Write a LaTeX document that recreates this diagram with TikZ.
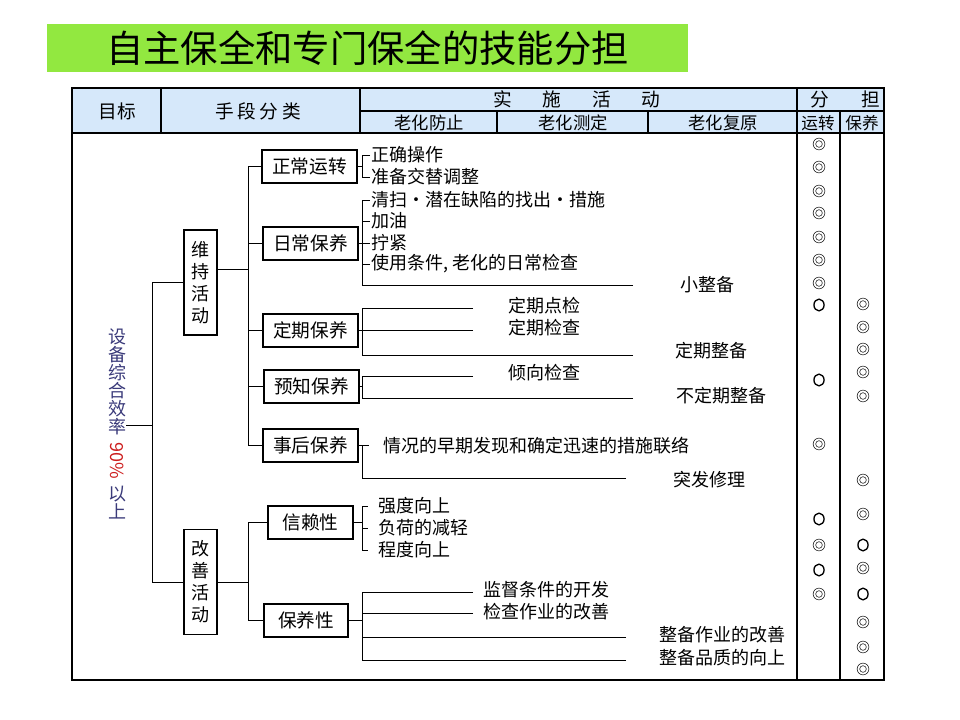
\documentclass[tikz,border=0pt]{standalone}
\usepackage{fontspec}
\setmainfont{Noto Sans CJK SC}
\usetikzlibrary{positioning, calc}

\definecolor{titleGreen}{RGB}{146,232,64}
\definecolor{headBlue}{RGB}{214,232,250}
\definecolor{goalNavy}{RGB}{58,58,122}
\definecolor{goalRed}{RGB}{205,30,30}

\begin{document}
\begin{tikzpicture}[
		x=0.75pt, y=-0.75pt,
		% Title bar
		mainTitle/.style={fill=titleGreen, minimum width=480.75pt, minimum height=36pt, inner sep=0pt,
			font=\fontsize{28}{30}\selectfont},
		% Table frame and header texts
		frame/.style={line width=0.9pt},
		head text/.style={inner sep=0pt, font=\fontsize{14}{16}\selectfont},
		sub head/.style={inner sep=0pt, font=\fontsize{13}{15}\selectfont},
		% Vertical goal text
		goal text/.style={inner sep=0pt, align=center, text=goalNavy, font=\fontsize{13.5}{13.5}\selectfont},
		% Boxes of the tree
		cat box/.style={draw, line width=0.8pt, minimum width=71.25pt, minimum height=24.75pt, inner sep=0pt,
			font=\fontsize{14}{16}\selectfont},
		vert box/.style={draw, line width=0.8pt, minimum width=24.75pt, minimum height=78.75pt, inner sep=0pt,
			align=center, font=\fontsize{13.5}{16.5}\selectfont},
		% Leaf texts
		item/.style={anchor=west, inner sep=1pt, font=\fontsize{13.5}{15}\selectfont},
		result/.style={inner sep=0pt, font=\fontsize{13.5}{15}\selectfont},
		link/.style={line width=0.7pt},
		% Marks in the share columns
		dblMark/.style={line width=0.45pt, draw=black!85},
		oneMark/.style={line width=1pt}
	]
	
	\fill[white] (0,0) rectangle (960,720);
	\useasboundingbox (0,0) rectangle (960,720);
	
	% Title
	\node[mainTitle] (title) at (367.5,48) {自主保全和专门保全的技能分担};
	
	% Table frame
	\fill[headBlue] (72,88) rectangle (884,133);
	\draw[frame] (72,88) rectangle (884,680);
	\draw[frame] (360,111) -- (884,111) (72,133) -- (884,133);
	\draw[frame] (161,88) -- (161,133) (360,88) -- (360,133)
		(497,111) -- (497,133) (648,111) -- (648,133);
	\draw[frame, line width=1.3pt] (797,88) -- (797,680) (840,111) -- (840,680);
	
	% Header texts
	\node[head text] (hGoal) at (117,111) {目标};
	\node[head text] (hMeans) at (258,111) {手\hspace{0.2em}段\hspace{0.2em}分\hspace{0.2em}类};
	\node[head text] (hAct) at (577,99) {实\hspace{1.65em}施\hspace{1.65em}活\hspace{1.65em}动};
	\node[head text] (hShare) at (845,99) {分\hspace{1.75em}担};
	\node[sub head] (hPrev) at (429,123) {老化防止};
	\node[sub head] (hMeas) at (573,123) {老化测定};
	\node[sub head] (hRest) at (723,123) {老化复原};
	\node[sub head, font=\fontsize{12.5}{14}\selectfont] (hRun) at (818,123) {运转};
	\node[sub head, font=\fontsize{12.5}{14}\selectfont] (hKeep) at (862,123) {保养};
	
	% Goal, read from top to bottom
	\node[goal text] (goalTop) at (117,382) {设\\备\\综\\合\\效\\率};
	\node[goal text, text=goalRed, rotate=-90] (goalPct) at (117,461) {90\%};
	\node[goal text] (goalBot) at (117,503) {以\\上};
	
	% Two kinds of activity
	\node[vert box] (keep) at (200.5,282.5) {维\\持\\活\\动};
	\node[vert box] (improve) at (200.5,582) {改\\善\\活\\动};
	
	\coordinate (trunk) at (152,425);
	\draw[link] (goalTop.east |- trunk) -- (trunk);
	\draw[link] (keep.west) -| (trunk);
	\draw[link] (improve.west) -| (trunk);
	
	% Maintenance branches
	\node[cat box] (normal) at (309.5,166.5) {正常运转};
	\node[cat box] (daily) at (310.5,243.5) {日常保养};
	\node[cat box] (periodic) at (310.5,330.5) {定期保养};
	\node[cat box] (predict) at (311.5,386.5) {预知保养};
	\node[cat box] (breakdown) at (310.5,445.5) {事后保养};
	
	\coordinate (keepJ) at (248,269);
	\draw[link] (keep.east |- keepJ) -- (keepJ);
	\foreach \b in {normal, daily, periodic, predict, breakdown}
		\draw[link] (\b.west) -| (keepJ);
	
	% Improvement branches
	\node[cat box, minimum width=63.75pt] (reliab) at (310.5,522.5) {信赖性};
	\node[cat box, minimum width=63pt] (maintain) at (306,620.5) {保养性};
	
	\coordinate (impJ) at (248,582);
	\draw[link] (improve.east) -- (impJ);
	\foreach \b in {reliab, maintain}
		\draw[link] (\b.west) -| (impJ);
	
	% Normal operation
	\coordinate (normalB) at (362,166.5);
	\node[item] (n1) at (370,155) {正确操作};
	\node[item] (n2) at (370,177) {准备交替调整};
	\draw[link] (normal.east) -- (normalB);
	\foreach \t in {n1, n2}
		\draw[link] (\t.west) -| (normalB);
	
	% Daily maintenance
	\coordinate (dailyB) at (362,243.5);
	\coordinate (dailyEnd) at (633,285);
	\node[item] (d1) at (370,200) {清扫·潜在缺陷的找出·措施};
	\node[item] (d2) at (370,221) {加油};
	\node[item] (d3) at (370,243) {拧紧};
	\node[item] (d4) at (370,264) {使用条件, 老化的日常检查};
	\draw[link] (daily.east) -- (dailyB);
	\foreach \t in {d1, d2, d3, d4}
		\draw[link] (\t.west) -| (dailyB);
	\draw[link] (dailyEnd) -| (dailyB);
	\node[result] (smallFix) at (707,285) {小整备};
	
	% Periodic maintenance
	\coordinate (periodicB) at (362,330.5);
	\coordinate (pLine1) at (473,308);
	\coordinate (pLine2) at (473,330.5);
	\coordinate (pEnd) at (633,355);
	\draw[link] (periodic.east) -- (periodicB);
	\foreach \c in {pLine1, pLine2, pEnd}
		\draw[link] (\c) -| (periodicB);
	\node[result] (p1) at (544,306) {定期点检};
	\node[result] (p2) at (544,328) {定期检查};
	\node[result] (pFix) at (711,351) {定期整备};
	
	% Predictive maintenance
	\coordinate (predictB) at (362,386.5);
	\coordinate (qLine1) at (473,376);
	\coordinate (qEnd) at (633,398);
	\draw[link] (predict.east) -- (predictB);
	\foreach \c in {qLine1, qEnd}
		\draw[link] (\c) -| (predictB);
	\node[result] (q1) at (544,373) {倾向检查};
	\node[result] (qFix) at (721,396) {不定期整备};
	
	% Breakdown maintenance
	\coordinate (breakdownB) at (362,445.5);
	\coordinate (bEnd) at (626,478);
	\node[item] (b1) at (382,445.5) {情况的早期发现和确定迅速的措施联络};
	\draw[link] (breakdown.east) -- ([xshift=-10pt]b1.west);
	\draw[link] (bEnd) -| (breakdownB);
	\node[result] (bFix) at (709,480) {突发修理};
	
	% Reliability
	\coordinate (reliabB) at (362,522.5);
	\node[item] (r1) at (377,506) {强度向上};
	\node[item] (r2) at (377,528) {负荷的减轻};
	\node[item] (r3) at (377,550) {程度向上};
	\draw[link] (reliab.east) -- (reliabB);
	\foreach \t in {r1, r2, r3}
		\draw[link, shorten <=7pt] (\t.west) -| (reliabB);
	
	% Maintainability
	\coordinate (maintainB) at (362,620.5);
	\coordinate (mLine1) at (473,592);
	\coordinate (mLine2) at (473,613);
	\coordinate (mLine3) at (626,637);
	\coordinate (mLine4) at (626,660);
	\draw[link] (maintain.east) -- (maintainB);
	\foreach \c in {mLine1, mLine2, mLine3, mLine4}
		\draw[link] (\c) -| (maintainB);
	\node[item] (m1) at (482,590) {监督条件的开发};
	\node[item] (m2) at (482,612) {检查作业的改善};
	\node[item] (m3) at (658,635) {整备作业的改善};
	\node[item] (m4) at (658,658) {整备品质的向上};
	
	% Share marks: operation column
	\foreach \y in {144,167,191,213,237,260,283,444,545,594}
		\draw[dblMark] (819,\y) circle[radius=4.4pt] (819,\y) circle[radius=2.5pt];
	\foreach \y in {305,380,519,570}
		\draw[oneMark] (819,\y) ellipse[x radius=3.8pt, y radius=4.4pt];
	
	% Share marks: maintenance column
	\foreach \y in {304,327,349,372,396,480,514,568,622,647,669}
		\draw[dblMark] (863,\y) circle[radius=4.4pt] (863,\y) circle[radius=2.5pt];
	\foreach \y in {545,594}
		\draw[oneMark] (863,\y) ellipse[x radius=3.8pt, y radius=4.4pt];
	
\end{tikzpicture}
\end{document}
